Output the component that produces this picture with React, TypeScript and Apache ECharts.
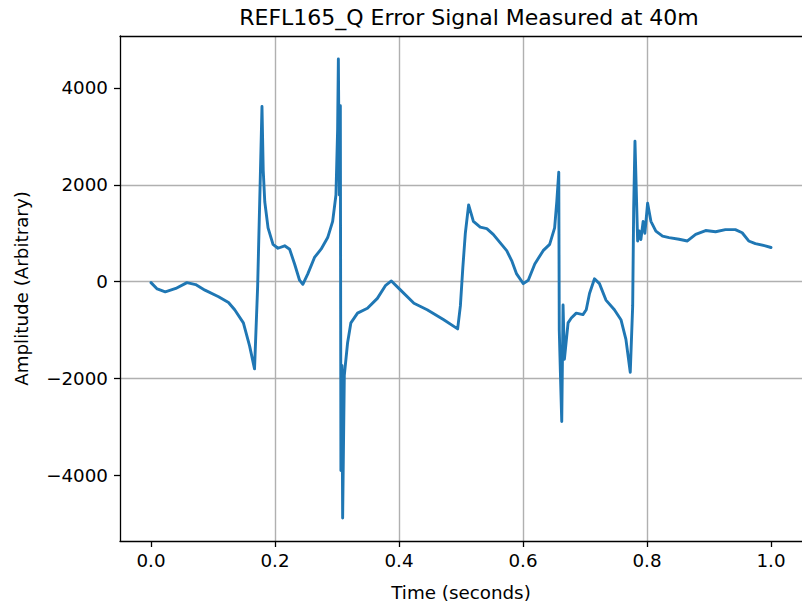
import React, { useEffect, useRef } from "react";
import * as echarts from "echarts";

const TITLE = "REFL165_Q Error Signal Measured at 40m";
const X_NAME = "Time (seconds)";
const Y_NAME = "Amplitude (Arbitrary)";

const timeS: number[] = [
  0.0, 0.01, 0.023, 0.04, 0.058, 0.072, 0.087, 0.109, 0.125, 0.135, 0.149, 0.159, 0.167,
  0.172, 0.176, 0.179, 0.181, 0.1835, 0.1888, 0.1968, 0.2048, 0.2156, 0.2236, 0.2316, 0.2396,
  0.2449, 0.2529, 0.2637, 0.2743, 0.285, 0.293, 0.2983, 0.301, 0.3022, 0.3038, 0.3054, 0.3063,
  0.308, 0.3091, 0.3118, 0.3171, 0.3224, 0.3331, 0.3491, 0.3651, 0.3785, 0.3877, 0.4026, 0.4241,
  0.4454, 0.4722, 0.4946, 0.499, 0.503, 0.507, 0.5123, 0.52, 0.531, 0.5416, 0.552, 0.563,
  0.5737, 0.5817, 0.5897, 0.6005, 0.6085, 0.619, 0.6325, 0.643, 0.651, 0.6545, 0.6577, 0.6585,
  0.661, 0.6625, 0.6646, 0.6668, 0.6727, 0.6779, 0.6859, 0.6967, 0.702, 0.7073, 0.7153, 0.7233,
  0.7338, 0.7474, 0.758, 0.766, 0.773, 0.7769, 0.7785, 0.7806, 0.7849, 0.7874, 0.7901, 0.7938,
  0.7966, 0.801, 0.8063, 0.8143, 0.8251, 0.8356, 0.8517, 0.8652, 0.8785, 0.8946, 0.9106, 0.9265,
  0.9425, 0.9535, 0.964, 0.9748, 0.9908, 1.0,
];

const amplitude: number[] = [
  -20, -150, -210, -140, -20, -60, -175, -310, -430, -580, -850, -1325, -1800,
  -100, 2000, 3615, 2300, 1650, 1110, 770, 690, 740, 670, 365, 30,
  -55, 160, 500, 670, 910, 1245, 1790, 3140, 4597, 1790, 3630, -3900,
  -1730, -4880, -1935, -1260, -850, -650, -550, -345, -75, 15, -175, -445,
  -580, -785, -975, -500, 300, 1000, 1585, 1245, 1125, 1095, 975, 805,
  640, 435, 160, -40, 30, 365, 640, 770, 1110, 1650, 2260, -1000,
  -2205, -2885, -480, -1600, -850, -750, -650, -680, -580, -245, 60, -40,
  -380, -580, -785, -1190, -1870, -500, 1500, 2900, 840, 1045, 870, 1245,
  1000, 1620, 1245, 1045, 940, 910, 875, 840, 975, 1055, 1030, 1075,
  1075, 1010, 840, 785, 740, 705,
];

const xTicks: number[] = [0, 0.2, 0.4, 0.6, 0.8, 1.0];
const yTicks: number[] = [-4000, -2000, 0, 2000, 4000];

const FONT = "DejaVu Sans";
const TICK_FS = 18.3;

export default function App() {
  const ref = useRef<HTMLDivElement>(null);

  useEffect(() => {
    document.body.style.margin = "0";
    if (!ref.current) return;
    const chart = echarts.init(ref.current, undefined, { renderer: "svg" });
    const data = timeS.map((t, i) => [t, amplitude[i]]);
    const fmtY = (v: number) => (v < 0 ? "\u2212" + Math.abs(v) : String(v));

    chart.setOption({
      animation: false,
      backgroundColor: "#ffffff",
      title: {
        text: TITLE,
        left: 464,
        top: 1,
        textAlign: "center",
        textStyle: { fontFamily: FONT, fontSize: 22, fontWeight: "normal", color: "#000" },
      },
      grid: { left: 120, top: 36, width: 687, height: 512, containLabel: false },
      xAxis: [
        {
          type: "value",
          min: -0.05,
          max: 1.05,
          position: "bottom",
          name: X_NAME,
          nameLocation: "middle",
          nameGap: 42,
          nameTextStyle: { fontFamily: FONT, fontSize: TICK_FS, color: "#000" },
          axisLine: { show: true, onZero: false, lineStyle: { color: "#000", width: 1.3 } },
          axisTick: {
            show: true,
            length: 6,
            customValues: xTicks,
            lineStyle: { color: "#000", width: 1.3 },
          },
          axisLabel: {
            customValues: xTicks,
            margin: 10,
            fontFamily: FONT,
            fontSize: TICK_FS,
            color: "#000",
            formatter: (v: number) => v.toFixed(1),
          },
          splitLine: {
            show: true,
            showMinLine: false,
            showMaxLine: false,
            lineStyle: { color: "#b0b0b0", width: 1.4 },
          },
        },
        {
          type: "value",
          min: -0.05,
          max: 1.05,
          position: "top",
          axisLine: { show: true, onZero: false, lineStyle: { color: "#000", width: 1.3 } },
          axisTick: { show: false },
          axisLabel: { show: false },
          splitLine: { show: false },
        },
      ],
      yAxis: {
        type: "value",
        min: -5353,
        max: 5071,
        name: Y_NAME,
        nameLocation: "middle",
        nameGap: 90,
        nameTextStyle: { fontFamily: FONT, fontSize: TICK_FS, color: "#000" },
        axisLine: { show: true, onZero: false, lineStyle: { color: "#000", width: 1.3 } },
        axisTick: {
          show: true,
          length: 6,
          customValues: yTicks,
          lineStyle: { color: "#000", width: 1.3 },
        },
        axisLabel: {
          customValues: yTicks,
          margin: 12,
          fontFamily: FONT,
          fontSize: TICK_FS,
          color: "#000",
          formatter: fmtY,
        },
        splitLine: {
          show: true,
          showMinLine: false,
          showMaxLine: false,
          lineStyle: { color: "#b0b0b0", width: 1.4 },
        },
      },
      series: [
        {
          type: "line",
          data,
          xAxisIndex: 0,
          showSymbol: false,
          symbol: "none",
          lineStyle: { color: "#1f77b4", width: 2.9, join: "round", cap: "round" },
          z: 3,
        },
      ],
    });

    return () => chart.dispose();
  }, []);

  return <div ref={ref} style={{ width: 802, height: 606 }} />;
}
